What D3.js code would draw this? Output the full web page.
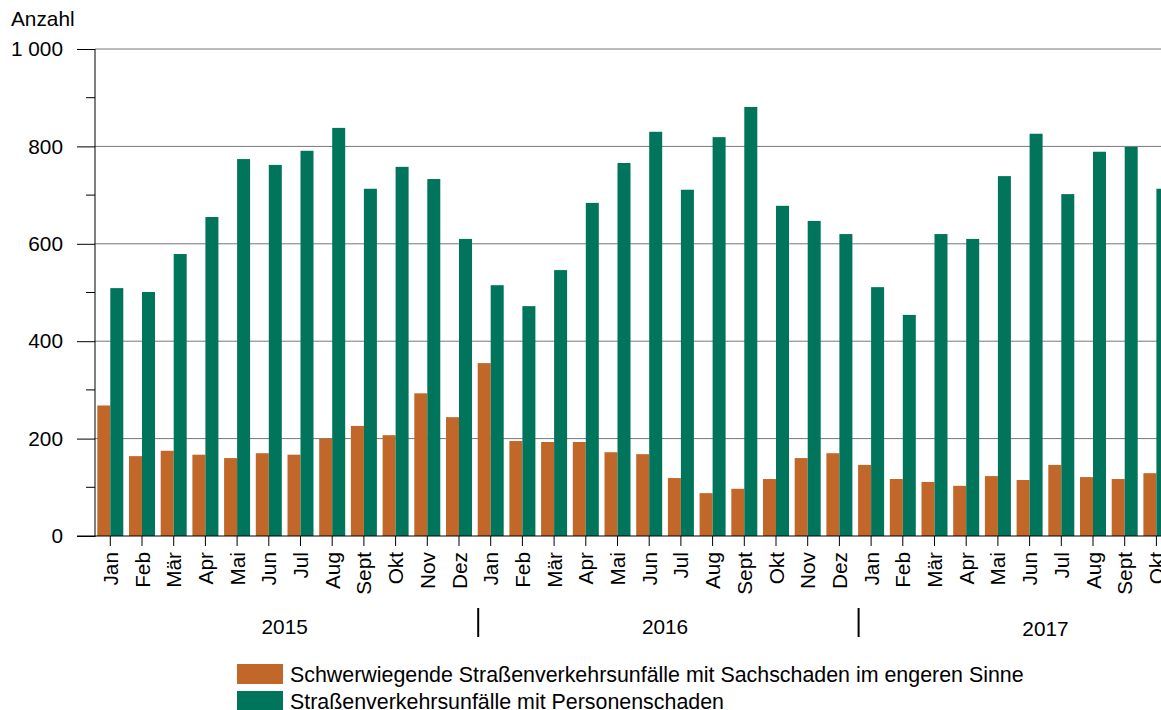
<!DOCTYPE html>
<html>
<head>
<meta charset="utf-8">
<script src="https://cdn.jsdelivr.net/npm/d3@7"></script>
<style>
  body { margin: 0; background: #fff; }
  svg { display: block; font-family: "Liberation Sans", Arial, sans-serif; }
</style>
</head>
<body>
<svg id="chart" width="1161" height="710"></svg>
<script>
var monthNames = ['Jan', 'Feb', 'Mär', 'Apr', 'Mai', 'Jun', 'Jul', 'Aug', 'Sept', 'Okt', 'Nov', 'Dez'];
var years = ['2015', '2016', '2017'];
var monthsPerYear = [12, 12, 10];

// Schwerwiegende Unfälle mit Sachschaden i.e.S.
var sachschaden = [
    268, 164, 175, 167, 160, 170, 167, 200, 226, 207, 293, 244,
    355, 195, 193, 193, 172, 168, 119, 88, 97, 117, 160, 170,
    146, 117, 111, 103, 123, 115, 146, 121, 117, 129
];
// Unfälle mit Personenschaden
var personenschaden = [
    509, 501, 579, 655, 774, 762, 791, 838, 713, 758, 733, 610,
    515, 472, 546, 684, 766, 830, 711, 819, 881, 678, 647, 620,
    511, 454, 620, 610, 739, 826, 702, 789, 799, 713
];

var yTicks = [0, 200, 400, 600, 800, 1000];
var yMinor = [100, 300, 500, 700, 900];
var legendLabels = [
    'Schwerwiegende Straßenverkehrsunfälle mit Sachschaden im engeren Sinne',
    'Straßenverkehrsunfälle mit Personenschaden'
];
var colors = ['#c1672a', '#00755b'];

// build the month keys
var keys = [];
var labels = [];
years.forEach(function (yr, i) {
    for (let m = 0; m < monthsPerYear[i]; m++) {
        keys.push(yr + '-' + m);
        labels.push(monthNames[m]);
    }
});
var rows = keys.map(function (k, i) {
    return { key: k, label: labels[i], vals: [sachschaden[i], personenschaden[i]] };
});

var fs = 20.8;
var svg = d3.select('#chart');
var left = 95, step = 31.7;
var x0 = left - 0.55;

var x = d3.scaleBand().domain(keys)
    .range([x0, x0 + keys.length * step])
    .paddingInner(0.18).paddingOuter(0.09);
var xs = d3.scaleBand().domain([0, 1]).range([0, x.bandwidth()]);
var y = d3.scaleLinear().domain([0, 1000]).range([536, 49]);

// gridlines
svg.append('g').selectAll('line').data(yTicks.filter(d => d > 0)).join('line')
    .attr('x1', left).attr('x2', 1161)
    .attr('y1', d => y(d)).attr('y2', d => y(d))
    .attr('stroke', '#777').attr('stroke-width', 1);

// bars
svg.append('g').selectAll('g').data(rows).join('g')
    .attr('transform', d => 'translate(' + x(d.key) + ',0)')
    .selectAll('rect').data(d => d.vals).join('rect')
    .attr('x', (d, i) => xs(i))
    .attr('width', xs.bandwidth())
    .attr('y', d => y(d))
    .attr('height', d => y(0) - y(d))
    .attr('fill', (d, i) => colors[i]);

// y axis
var yAxis = svg.append('g').attr('transform', 'translate(' + left + ',0)')
    .call(d3.axisLeft(y).tickValues(yTicks).tickSize(18).tickPadding(14)
        .tickFormat(d => d3.format(',')(d).replace(',', ' ')));
yAxis.select('.domain').attr('d', 'M0,' + y(1000) + 'V' + (y(0) + 1)).attr('stroke', '#000');
yAxis.selectAll('.tick line').attr('stroke', '#000');
yAxis.selectAll('.tick text').attr('font-size', fs).attr('fill', '#000')
    .attr('font-family', '"Liberation Sans", Arial, sans-serif');
svg.append('g').selectAll('line').data(yMinor).join('line')
    .attr('x1', left - 9).attr('x2', left)
    .attr('y1', d => y(d)).attr('y2', d => y(d))
    .attr('stroke', '#000');

// baseline
svg.append('line').attr('x1', left - 18).attr('x2', 1161)
    .attr('y1', y(0)).attr('y2', y(0)).attr('stroke', '#000').attr('stroke-width', 1.2);

// x axis (months)
var xAxis = svg.append('g').attr('transform', 'translate(0,' + y(0) + ')')
    .call(d3.axisBottom(x).tickSize(10).tickFormat((d, i) => labels[i]));
xAxis.select('.domain').remove();
xAxis.selectAll('.tick line').attr('stroke', '#000');
xAxis.selectAll('.tick text')
    .attr('font-size', fs).attr('fill', '#000')
    .attr('font-family', '"Liberation Sans", Arial, sans-serif')
    .attr('text-anchor', 'end')
    .attr('transform', 'rotate(-90)')
    .attr('x', -16).attr('y', 0).attr('dy', '0.36em');

// year labels and separators
var start = 0;
years.forEach(function (yr, i) {
    let first = keys[start];
    let cFirst = x(first) + x.bandwidth() / 2;
    let cCenter = cFirst + 5.5 * step;
    svg.append('text').attr('x', cCenter).attr('y', i == 2 ? 636 : 634)
        .attr('text-anchor', 'middle').attr('font-size', fs).text(yr);
    if (i > 0) {
        svg.append('line').attr('x1', x(first) + 0.5).attr('x2', x(first) + 0.5)
            .attr('y1', 608).attr('y2', 637)
            .attr('stroke', '#000').attr('stroke-width', 2);
    }
    start += monthsPerYear[i];
});

// y title
svg.append('text').attr('x', 11).attr('y', 26).attr('font-size', fs).text('Anzahl');

// legend
var leg = svg.append('g').selectAll('g').data(legendLabels).join('g')
    .attr('transform', (d, i) => 'translate(237,' + (664 + i * 27) + ')');
leg.append('rect').attr('width', 46).attr('height', 20).attr('fill', (d, i) => colors[i]);
leg.append('text').attr('x', 53).attr('y', 10).attr('dy', '0.35em')
    .attr('font-size', 21.4).text(d => d);
</script>
</body>
</html>
